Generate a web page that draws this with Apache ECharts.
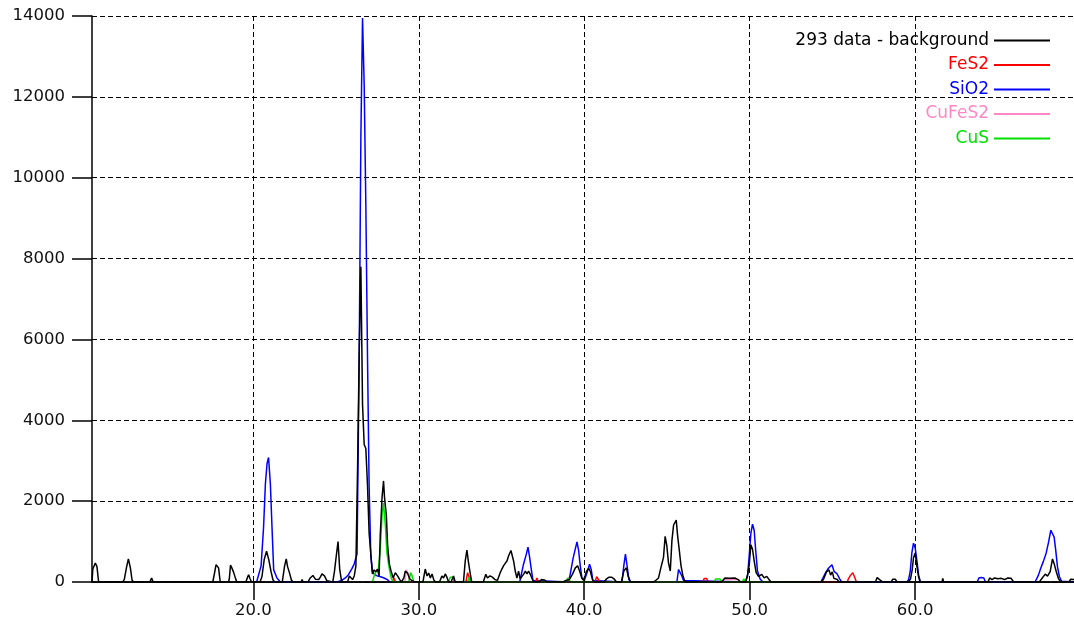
<!DOCTYPE html>
<html>
<head>
<meta charset="utf-8">
<script src="https://cdn.jsdelivr.net/npm/echarts@6/dist/echarts.min.js"></script>
<style>
html,body{margin:0;padding:0;background:#fff;}
#chart{width:1074px;height:625px;}
</style>
</head>
<body>
<div id="chart"></div>
<script>
// ---- data (2-theta, counts) ----
const seriesNames = ['293 data - background', 'FeS2', 'SiO2', 'CuFeS2', 'CuS'];
const xTickValues = [20, 30, 40, 50, 60];
const yTickValues = [0, 2000, 4000, 6000, 8000, 10000, 12000, 14000];

const dataBackground = [
  [10.25,0],[10.3,320],[10.35,300],[10.45,470],[10.55,380],[10.65,0],
  [12.1,0],[12.2,60],[12.33,350],[12.45,570],[12.57,350],[12.67,50],[12.75,0],
  [13.75,0],[13.85,100],[13.95,0],
  [17.55,0],[17.65,210],[17.75,430],[17.82,470],[17.9,350],[18.0,0],
  [18.5,0],[18.55,80],[18.62,420],[18.7,350],[18.8,250],[18.9,120],[19.0,0],
  [19.55,0],[19.65,120],[19.72,180],[19.8,80],[19.9,0],
  [20.4,0],[20.52,130],[20.66,560],[20.8,760],[20.93,560],[21.07,260],[21.19,50],[21.3,0],
  [21.75,0],[21.89,400],[21.99,570],[22.07,380],[22.19,220],[22.3,50],[22.4,0],
  [22.9,0],[22.95,60],[23.0,0],
  [23.3,0],[23.44,100],[23.6,160],[23.75,70],[23.85,40],[23.95,60],[24.05,120],[24.15,200],[24.3,150],[24.45,30],[24.55,0],
  [24.8,0],[24.9,250],[25.0,600],[25.12,1000],[25.22,320],[25.32,50],[25.4,0],
  [25.7,0],[25.8,150],[25.9,120],[26.0,60],[26.1,150],
  [26.2,400],[26.3,2800],[26.4,5700],[26.5,7800],[26.6,4400],[26.7,3400],[26.8,3300],[26.9,2400],[27.0,1200],[27.1,700],
  [27.2,200],[27.3,300],[27.4,250],[27.5,320],[27.6,150],
  [27.67,1140],[27.78,2090],[27.87,2500],[27.93,2090],[28.04,1650],[28.12,880],[28.22,450],[28.32,280],[28.45,100],
  [28.58,230],[28.72,150],[28.85,60],[28.95,0],[29.1,100],[29.18,270],[29.32,220],[29.45,80],[29.6,30],[29.75,0],
  [30.25,0],[30.39,320],[30.5,150],[30.6,220],[30.7,100],[30.8,200],[30.9,60],[31.0,0],
  [31.25,0],[31.4,150],[31.5,100],[31.6,200],[31.7,120],[31.8,0],
  [31.95,0],[32.1,150],[32.2,0],
  [32.7,0],[32.81,530],[32.91,790],[33.0,500],[33.1,230],[33.2,0],
  [33.9,0],[34.05,190],[34.15,100],[34.3,150],[34.45,120],[34.6,60],[34.75,40],
  [34.82,60],[34.92,230],[35.02,320],[35.12,400],[35.22,460],[35.33,520],[35.43,650],[35.57,780],[35.65,760],[35.73,520],[35.83,270],[35.93,100],[36.03,270],[36.13,80],[36.25,50],
  [36.35,200],[36.44,270],[36.54,200],[36.64,270],[36.74,190],[36.85,80],[36.95,0],
  [37.3,0],[37.4,60],[37.6,50],[37.75,0],
  [38.7,0],[38.9,40],[39.1,60],[39.3,200],[39.46,350],[39.6,400],[39.72,270],[39.85,100],[39.95,50],
  [40.05,150],[40.13,260],[40.27,340],[40.37,260],[40.5,60],[40.6,0],
  [41.2,0],[41.35,80],[41.5,120],[41.65,120],[41.8,80],[41.95,0],
  [42.25,0],[42.39,270],[42.55,350],[42.65,150],[42.8,0],
  [44.2,0],[44.35,50],[44.49,100],[44.63,350],[44.79,610],[44.89,1130],[44.99,900],[45.09,480],[45.2,270],[45.3,1030],[45.4,1410],[45.56,1530],[45.64,1160],[45.76,730],[45.85,400],[45.97,140],[46.1,0],
  [48.3,0],[48.5,100],[48.8,90],[49.1,100],[49.3,60],[49.45,0],
  [49.75,0],[49.88,200],[49.97,420],[50.07,920],[50.17,810],[50.27,520],[50.39,230],[50.53,140],[50.63,100],[50.73,190],[50.87,100],[51.03,140],[51.19,50],[51.3,0],
  [54.35,0],[54.48,85],[54.64,250],[54.79,300],[54.89,170],[54.99,250],[55.09,90],[55.19,130],[55.3,60],[55.4,0],
  [57.6,0],[57.7,110],[57.85,60],[57.95,100],[58.05,0],
  [58.55,0],[58.65,70],[58.8,70],[58.9,0],
  [59.6,0],[59.72,80],[59.82,300],[59.9,600],[60.0,720],[60.11,380],[60.21,120],[60.3,0],
  [61.62,0],[61.67,90],[61.72,0],
  [64.4,0],[64.5,100],[64.65,60],[64.8,100],[65.0,80],[65.2,90],[65.4,60],[65.6,100],[65.8,90],[65.95,0],
  [67.5,0],[67.66,85],[67.86,195],[68.0,145],[68.16,255],[68.3,570],[68.42,425],[68.53,255],[68.66,85],[68.8,0],
  [69.3,0],[69.4,70],[69.6,60]
];

const dataFeS2 = [
  [28.4,0],[28.5,100],[28.6,0],
  [32.85,0],[32.95,230],[33.05,200],[33.15,0],
  [37.05,0],[37.14,100],[37.22,0],
  [38.95,0],[39.05,100],[39.12,0],
  [40.65,0],[40.75,130],[40.85,120],[40.95,0],
  [47.15,0],[47.25,85],[47.4,85],[47.5,0],
  [55.9,0],[55.97,85],[56.1,170],[56.23,230],[56.35,110],[56.45,0]
];

const dataSiO2 = [
  [20.2,0],[20.32,30],[20.47,400],[20.62,1360],[20.73,2430],[20.83,2930],[20.92,3080],[21.03,2430],[21.13,1350],[21.23,300],[21.43,100],[21.63,0],
  [25.05,0],[25.3,30],[25.56,100],[25.75,180],[25.96,330],[26.1,450],[26.27,700],[26.4,5600],[26.5,11000],[26.6,13950],[26.7,12300],[26.8,9350],[26.9,5600],[27.0,2350],[27.1,650],
  [27.2,250],[27.35,180],[27.5,150],[27.7,130],[27.9,100],[28.1,60],[28.25,0],
  [36.1,0],[36.17,40],[36.33,440],[36.5,690],[36.6,860],[36.7,610],[36.8,310],[36.9,40],[37.0,0],
  [39.05,0],[39.15,190],[39.32,570],[39.46,820],[39.56,990],[39.66,780],[39.76,400],[39.86,100],[40.0,30],
  [40.2,270],[40.32,440],[40.42,310],[40.52,40],[40.6,0],
  [42.28,0],[42.39,400],[42.49,690],[42.59,400],[42.7,60],[42.8,0],
  [45.6,0],[45.7,310],[45.8,350],[45.9,150],[46.0,40],[46.1,0],
  [49.75,0],[49.87,140],[49.97,650],[50.07,1200],[50.17,1430],[50.27,1280],[50.37,740],[50.47,270],[50.63,75],[50.8,0],
  [54.3,0],[54.4,40],[54.56,210],[54.76,340],[54.97,425],[55.11,255],[55.27,210],[55.43,85],[55.55,0],
  [59.5,0],[59.6,60],[59.7,255],[59.8,720],[59.9,960],[60.0,850],[60.11,510],[60.21,170],[60.32,0],
  [63.75,0],[63.85,100],[64.0,110],[64.15,100],[64.25,0],
  [67.25,0],[67.45,170],[67.59,340],[67.75,510],[67.92,720],[68.06,980],[68.2,1280],[68.3,1300],[68.4,1110],[68.5,770],[68.6,380],[68.72,130],[68.85,20],[68.96,0],[69.6,0]
];

const dataCuFeS2 = [
  [29.15,0],[29.25,300],[29.35,200],[29.45,0],
  [48.35,0],[48.45,60],[49.3,60],[49.4,0]
];

const dataCuS = [
  [27.2,0],[27.3,150],[27.4,250],[27.55,280],[27.67,790],[27.78,1650],[27.87,1960],[27.98,1400],[28.08,700],[28.24,275],[28.35,80],[28.45,0],
  [29.4,0],[29.5,230],[29.6,150],[29.7,0],
  [31.8,0],[31.9,120],[32.05,120],[32.15,0],
  [32.95,0],[33.05,120],[33.15,0],
  [38.9,0],[39.0,100],[39.1,80],[39.18,0],
  [47.85,0],[47.95,75],[48.2,75],[48.3,0],
  [49.55,0],[49.65,75],[49.75,40],[49.82,0],
  [53.55,0],[53.61,40],[53.67,0]
];

const seriesColors = ['#000000', '#ff0000', '#0000ff', '#ff88c4', '#00e000'];
const seriesData = [dataBackground, dataFeS2, dataSiO2, dataCuFeS2, dataCuS];
const seriesZ = [6, 4, 3, 4, 5];

const FONT = '"DejaVu Sans", Verdana, sans-serif';
const chart = echarts.init(document.getElementById('chart'), null, {renderer: 'canvas'});

const option = {
  animation: false,
  backgroundColor: '#ffffff',
  grid: {left: 92, right: 0, top: 16, bottom: 43, containLabel: false},
  legend: {
    orient: 'vertical',
    right: 24,
    top: 32,
    padding: 0,
    align: 'right',
    icon: 'rect',
    itemWidth: 56,
    itemHeight: 2,
    itemGap: 7.5,
    selectedMode: false,
    textStyle: {fontFamily: FONT, fontSize: 17},
    data: seriesNames.map((n, i) => ({name: n, textStyle: {color: seriesColors[i]}}))
  },
  xAxis: [{
    type: 'value',
    min: 10.25,
    max: 69.6,
    position: 'bottom',
    z: 10,
    axisLine: {show: true, onZero: false, lineStyle: {color: '#000', width: 1.5}},
    axisTick: {show: true, customValues: xTickValues, length: 18, inside: false, lineStyle: {color: '#000', width: 1.5}},
    axisLabel: {
      customValues: xTickValues, margin: 20,
      fontFamily: FONT, fontSize: 16.5, color: '#111',
      formatter: v => Number(v).toFixed(1)
    },
    splitLine: {show: true, lineStyle: {color: '#000', type: [5, 3], width: 1}}
  }, {
    type: 'value',
    min: 10.25,
    max: 69.6,
    position: 'top',
    axisLine: {show: true, lineStyle: {color: '#000', width: 1.5}},
    axisTick: {show: false},
    axisLabel: {show: false},
    splitLine: {show: false}
  }],
  yAxis: {
    type: 'value',
    min: 0,
    max: 14000,
    interval: 2000,
    axisLine: {show: true, lineStyle: {color: '#000', width: 1.5}},
    axisTick: {show: true, length: 20, lineStyle: {color: '#000', width: 1.5}},
    axisLabel: {
      margin: 27, fontFamily: FONT, fontSize: 16.5, color: '#111',
      formatter: v => String(v)
    },
    splitLine: {show: true, lineStyle: {color: '#000', type: [5, 3], width: 1}}
  },
  series: seriesNames.map((n, i) => ({
    name: n,
    type: 'line',
    xAxisIndex: 0,
    data: seriesData[i],
    symbol: 'none',
    showSymbol: false,
    z: seriesZ[i],
    color: seriesColors[i],
    lineStyle: {color: seriesColors[i], width: 1.5},
    emphasis: {disabled: true}
  }))
};
chart.setOption(option);
</script>
</body>
</html>
